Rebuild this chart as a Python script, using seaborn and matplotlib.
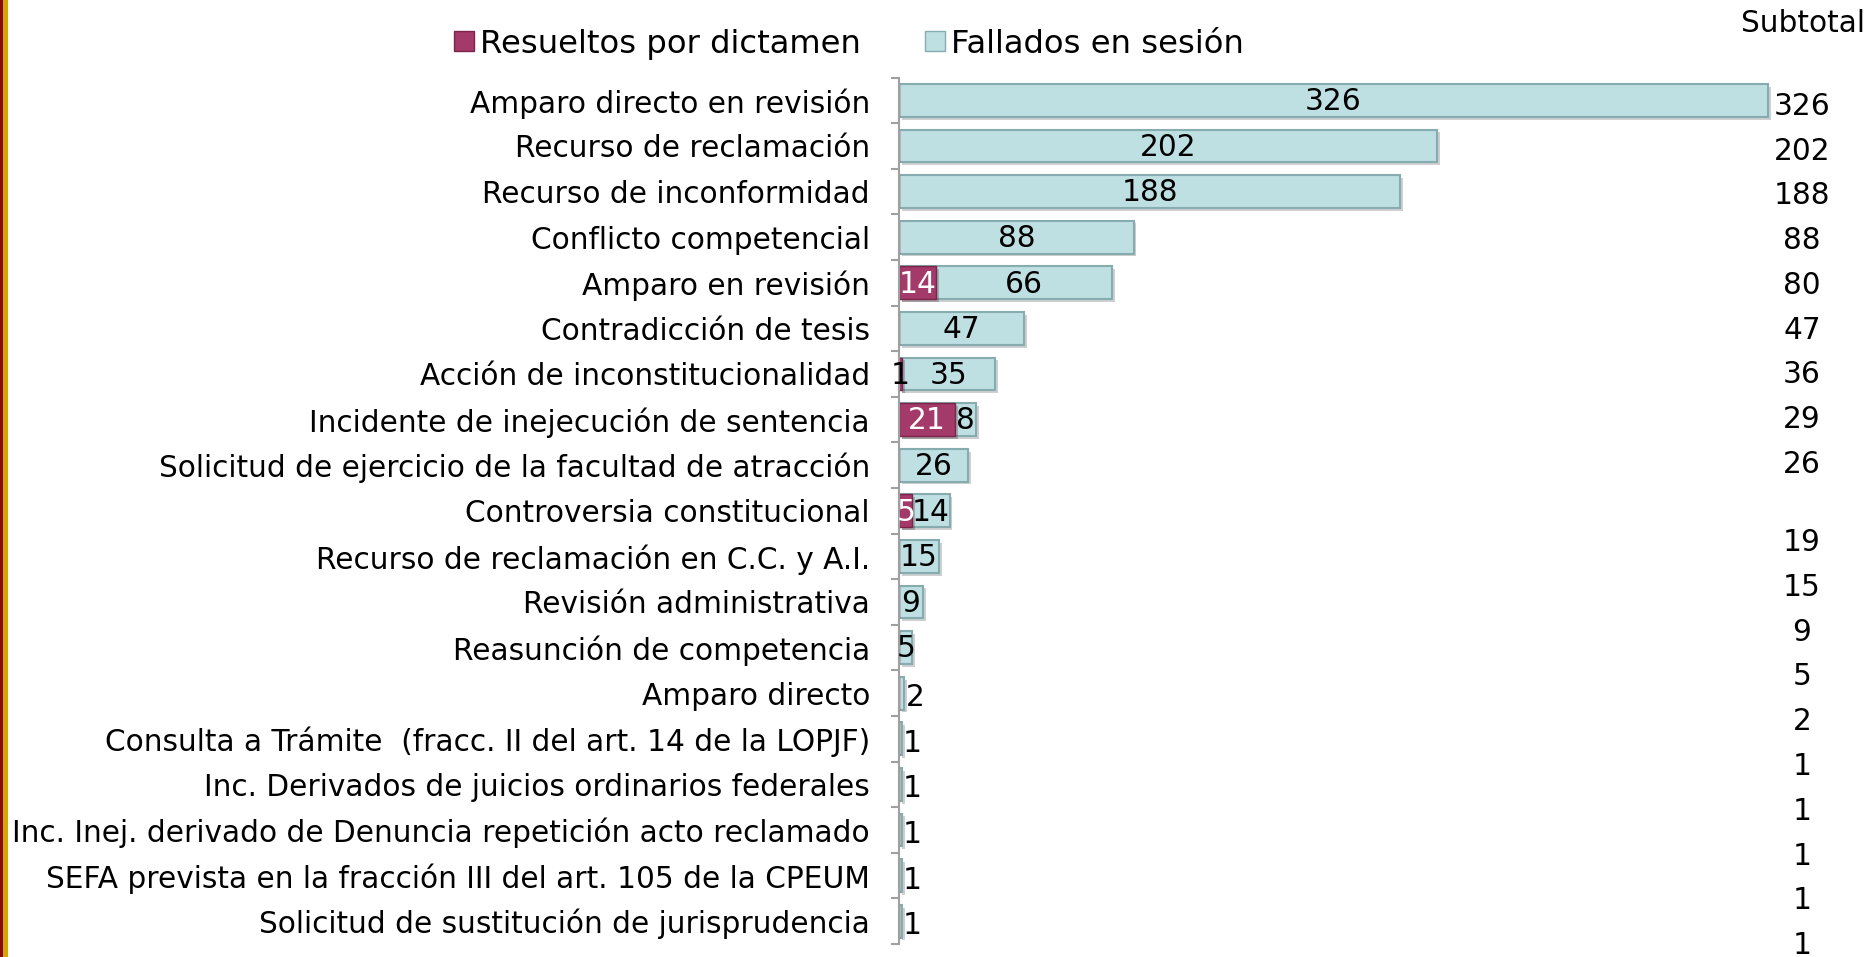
import pandas as pd
import numpy as np
import matplotlib.pyplot as plt
import matplotlib.transforms as mtransforms
import matplotlib.patheffects as pe
from matplotlib.patches import Rectangle, Patch
import seaborn as sns

# datos del grafico
categorias = [
    "Amparo directo en revisión",
    "Recurso de reclamación",
    "Recurso de inconformidad",
    "Conflicto competencial",
    "Amparo en revisión",
    "Contradicción de tesis",
    "Acción de inconstitucionalidad",
    "Incidente de inejecución de sentencia",
    "Solicitud de ejercicio de la facultad de atracción",
    "Controversia constitucional",
    "Recurso de reclamación en C.C. y A.I.",
    "Revisión administrativa",
    "Reasunción de competencia",
    "Amparo directo",
    "Consulta a Trámite  (fracc. II del art. 14 de la LOPJF)",
    "Inc. Derivados de juicios ordinarios federales",
    "Inc. Inej. derivado de Denuncia repetición acto reclamado",
    "SEFA prevista en la fracción III del art. 105 de la CPEUM",
    "Solicitud de sustitución de jurisprudencia",
]
dictamen = [0, 0, 0, 0, 14, 0, 1, 21, 0, 5, 0, 0, 0, 0, 0, 0, 0, 0, 0]
sesion = [326, 202, 188, 88, 66, 47, 35, 8, 26, 14, 15, 9, 5, 2, 1, 1, 1, 1, 1]
subtotal = [326, 202, 188, 88, 80, 47, 36, 29, 26, 19, 15, 9, 5, 2, 1, 1, 1, 1, 1]

df = pd.DataFrame({"categoria": categorias, "dictamen": dictamen, "sesion": sesion})
df["total"] = df["dictamen"] + df["sesion"]

col_dict = "#a33a69"
col_dict_edge = "#7a2549"
col_ses = "#bfe0e3"
col_ses_edge = "#86acb0"
fs = 21.3

sns.set_style("white")
plt.rcParams["font.family"] = ["DejaVu Sans"]
plt.rcParams["text.color"] = "black"
plt.rcParams["ytick.color"] = "black"

fig = plt.figure(figsize=(18.68, 9.57), dpi=100)
ax = fig.add_axes([0.4813, 0.0136, 0.485, 0.9054])

# barras apiladas: primero el total, luego lo resuelto por dictamen encima
sns.barplot(data=df, y="categoria", x="total", orient="h", color=col_ses,
            edgecolor=col_ses_edge, linewidth=1.5, width=0.72, ax=ax, saturation=1)
sns.barplot(data=df, y="categoria", x="dictamen", orient="h", color=col_dict,
            edgecolor=col_dict_edge, linewidth=1.0, width=0.72, ax=ax, saturation=1)

# sombra ligera como en el original
for p in ax.patches:
    p.set_path_effects([pe.SimplePatchShadow(offset=(2, -2), alpha=0.25), pe.Normal()])

ax.set_xlim(0, 340)
ax.set_ylim(18.5, -0.5)
ax.set_xlabel("")
ax.set_ylabel("")
ax.set_xticks([])
for s in ["top", "right", "bottom"]:
    ax.spines[s].set_visible(False)
ax.spines["left"].set_color("#a0a0a0")
ax.spines["left"].set_linewidth(1.5)
ax.set_yticks(np.arange(-0.5, 19, 1), minor=True)
ax.tick_params(axis="y", which="major", length=0, pad=21, labelsize=fs, labelcolor="black")
ax.tick_params(axis="y", which="minor", left=True, length=6, width=1.5,
               color="#a0a0a0", direction="out")

# etiquetas de valores
for i, row in df.iterrows():
    d, s = row["dictamen"], row["sesion"]
    if d > 0:
        if d >= 4:
            ax.text(d / 2, i + 0.03, str(d), ha="center", va="center", fontsize=fs, color="white")
        else:
            ax.text(d / 2, i + 0.03, str(d), ha="center", va="center", fontsize=fs, color="black")
    if s > 0:
        if s >= 4:
            ax.text(d + s / 2, i + 0.03, str(s), ha="center", va="center", fontsize=fs, color="black")
        else:
            ax.text(d + s + 0.5, i + 0.1, str(s), ha="left", va="center", fontsize=fs, color="black")

# columna de subtotales
trans = mtransforms.blended_transform_factory(fig.transFigure, ax.transData)
for k, v in enumerate(subtotal):
    yk = k * 0.982 + 0.13 + (0.73 if k >= 9 else 0)
    ax.text(0.9647, yk, str(v), ha="center", va="center", fontsize=fs,
            transform=trans, clip_on=False)
fig.text(0.9652, 0.975, "Subtotal", ha="center", va="center", fontsize=fs)

# leyenda
handles = [Patch(facecolor=col_dict, edgecolor=col_dict_edge, label="Resueltos por dictamen"),
           Patch(facecolor=col_ses, edgecolor=col_ses_edge, label="Fallados en sesión")]
fig.legend(handles=handles, loc="center", bbox_to_anchor=(0.4546, 0.954), ncol=2,
           frameon=False, fontsize=23.2, handlelength=0.6, handleheight=0.6,
           handletextpad=0.2, columnspacing=2.0)

# borde izquierdo decorativo
fig.patches.append(Rectangle((0, 0), 3 / 1868, 1, transform=fig.transFigure,
                             facecolor="#8b0a0a", edgecolor="none"))
fig.patches.append(Rectangle((3 / 1868, 0), 5 / 1868, 1, transform=fig.transFigure,
                             facecolor="#d4a800", edgecolor="none"))

fig.savefig("out.png", dpi=100)
